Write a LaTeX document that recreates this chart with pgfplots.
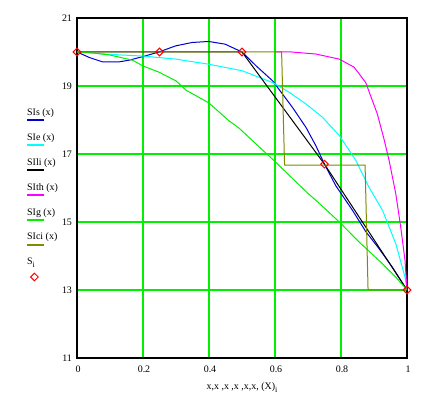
\documentclass[border=0pt]{standalone}
\usepackage{pgfplots}
\pgfplotsset{compat=1.18}
\usepackage{fontspec}
\setmainfont{Liberation Serif}
\definecolor{gridgreen}{RGB}{0,240,0}
\definecolor{cblue}{RGB}{0,0,210}
\definecolor{ccyan}{RGB}{0,255,255}
\definecolor{cmag}{RGB}{255,0,255}
\definecolor{colive}{RGB}{128,140,0}
\definecolor{cred}{RGB}{255,0,0}
\pgfplotsset{
  linelegend/.style={legend image code/.code={\draw[##1,overlay,line width=1.3bp] (0bp,-7.5bp) -- (17bp,-7.5bp);}},
  dmdlegend/.style={legend image code/.code={\draw[##1,overlay] plot coordinates {(7.3bp,-14.5bp)};}}}
\begin{document}
\begin{tikzpicture}
\useasboundingbox (0,0) rectangle (425bp,399bp);
\begin{axis}[
  at={(77bp,41bp)}, anchor=south west,
  scale only axis, width=330bp, height=340bp,
  xmin=0, xmax=1, ymin=11, ymax=21,
  xtick={0,0.2,0.4,0.6,0.8,1}, ytick={11,13,15,17,19,21},
  xmajorgrids=true, ymajorgrids=true,
  major grid style={draw=gridgreen, line width=1.3bp},
  major tick length=0pt,
  axis line style={line width=1.1bp, black},
  tick label style={font=\fontsize{10}{12}\selectfont},
  /pgf/number format/assume math mode=true,
  xticklabel style={yshift=-4bp, xshift=1bp},
  yticklabel style={xshift=-1.5bp},
  xlabel={x,x ,x ,x ,x,x, (X)\raisebox{-0.6ex}{\fontsize{8}{9}\selectfont i}},
  xlabel style={font=\fontsize{10}{12}\selectfont, at={(axis description cs:0.5,0)}, anchor=base, yshift=-31.6bp},
  legend style={draw=none, fill=none, at={(-0.151,0.735294)}, anchor=north west,
    inner sep=0pt, outer sep=0pt, row sep=16bp, column sep=0pt,
    font=\fontsize{10}{12}\selectfont,
    nodes={inner sep=0pt, text height=7bp, text depth=2bp}},
  legend cell align=left,
  every axis plot/.append style={line width=1bp},
]
% SIs - spline
\addplot[color=cblue, linelegend] coordinates {
(0,20) (0.037,19.84) (0.077,19.71) (0.128,19.71) (0.158,19.76) (0.198,19.86)
(0.248,20.0) (0.299,20.18) (0.349,20.28) (0.399,20.31) (0.449,20.23) (0.5,20.0)
(0.543,19.59) (0.593,19.15) (0.623,18.76) (0.653,18.37) (0.694,17.78) (0.724,17.24)
(0.75,16.7) (0.784,16.07) (0.835,15.34) (0.875,14.72) (0.915,14.22) (0.955,13.68) (1,13)
};
\addlegendentry{SIs (x)}
% SIe
\addplot[color=ccyan, linelegend] coordinates {
(0,20) (0.1,19.93) (0.2,19.88) (0.3,19.79) (0.4,19.64) (0.5,19.45) (0.593,19.10)
(0.644,18.81) (0.694,18.47) (0.744,18.08) (0.795,17.54) (0.845,16.81) (0.885,16.02)
(0.926,15.34) (0.966,14.36) (0.994,13.38) (1,13)
};
\addlegendentry{SIe (x)}
% SIli - linear
\addplot[color=black, linelegend] coordinates {
(0,20) (0.25,20) (0.5,20) (0.75,16.7) (1,13)
};
\addlegendentry{SIli (x)}
% SIth
\addplot[color=cmag, linelegend] coordinates {
(0.6,20) (0.65,20) (0.7,19.96) (0.724,19.94) (0.795,19.79) (0.84,19.55)
(0.875,19.1) (0.91,18.18) (0.93,17.45) (0.946,16.8) (0.966,15.83) (0.981,14.85)
(0.994,13.87) (1,13)
};
\addlegendentry{SIth (x)}
% SIg
\addplot[color=gridgreen, linelegend] coordinates {
(0,20) (0.05,19.97) (0.1,19.91) (0.168,19.76) (0.2,19.59) (0.25,19.4) (0.3,19.15)
(0.33,18.88) (0.4,18.5) (0.46,17.98) (0.49,17.77) (0.553,17.2) (0.6,16.78)
(0.623,16.56) (0.7,15.84) (0.734,15.55) (0.795,15.0) (0.855,14.41) (0.915,13.87)
(0.966,13.38) (1,13)
};
\addlegendentry{SIg (x)}
% SIci - step
\addplot[color=colive, linelegend] coordinates {
(0,20) (0.62,20) (0.629,16.67) (0.873,16.67) (0.882,13) (1,13)
};
\addlegendentry{SIci (x)}
% data points
\addplot[color=cred, only marks, mark=square, mark size=2.7bp, mark options={rotate=45, line width=1bp}, dmdlegend] coordinates {
(0,20) (0.25,20) (0.5,20) (0.75,16.7) (1,13)
};
\addlegendentry{S\raisebox{-0.6ex}{\fontsize{8}{9}\selectfont i}}
\end{axis}
\end{tikzpicture}
\end{document}
